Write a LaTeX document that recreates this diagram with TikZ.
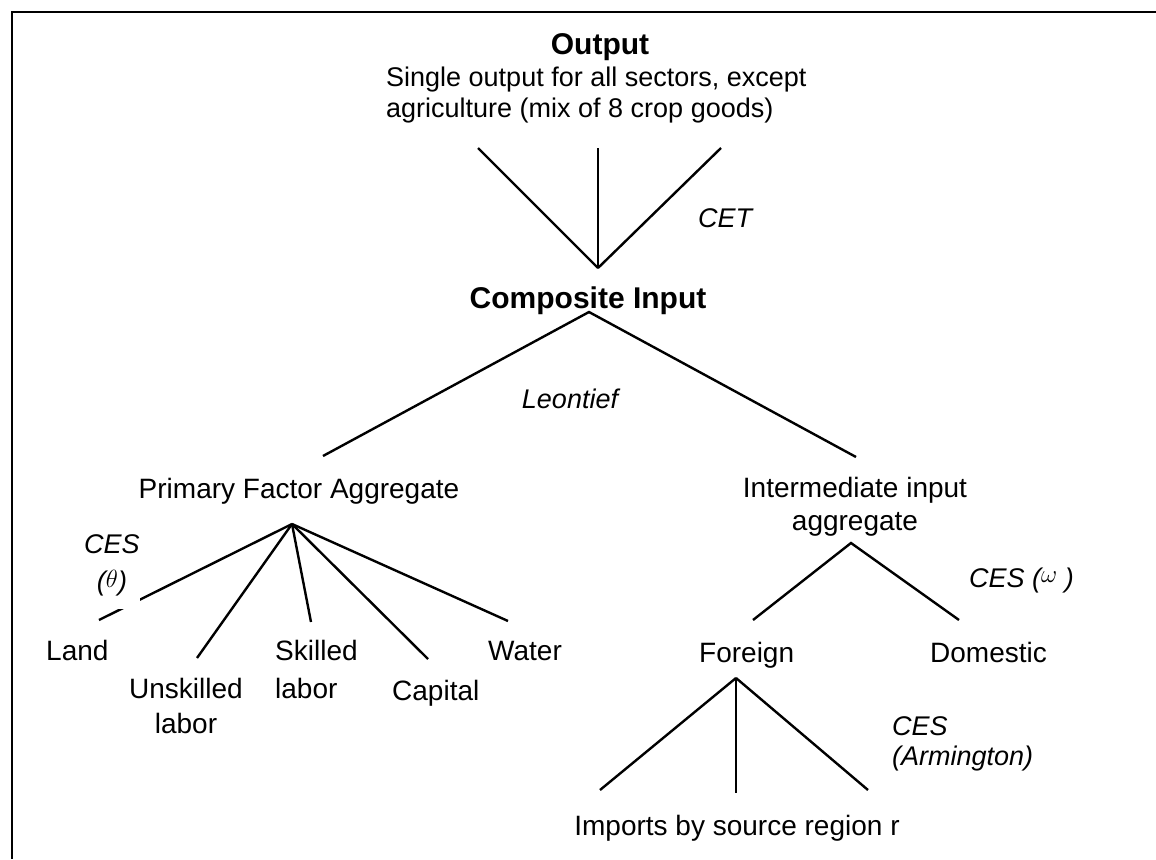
\documentclass[tikz,border=0pt]{standalone}
\usepackage{fontspec}
\setmainfont{Liberation Sans}
\begin{document}
\begin{tikzpicture}[x=1pt,y=-1pt,line width=2.4pt,
	txt/.style={inner sep=0pt,font=\fontsize{28}{34}\selectfont},
	lbl/.style={inner sep=0pt,font=\fontsize{27}{31}\selectfont\itshape},
	ttl/.style={inner sep=0pt,font=\fontsize{30}{34}\selectfont\bfseries}]
	
	\useasboundingbox (0,0) rectangle (1156,859);
	\draw (1156,12) -- (12,12) -- (12,859);
	
	% output
	\node[ttl,anchor=base] (out) at (600,55) {Output};
	\node[txt,anchor=base west,align=left,font=\fontsize{27}{31}\selectfont] (outtxt) at (385,117)
		{Single output for all sectors, except\\agriculture (mix of 8 crop goods)};
	\coordinate (ci-up) at (598,268);
	\foreach \x [count=\i] in {478,598,721}
	{
		\coordinate (o\i) at (\x,148);
		\draw (ci-up) -- (o\i);
	}
	\node[lbl,anchor=base west] (cet) at (697,227) {CET};
	
	% composite input
	\node[ttl,anchor=base] (ci) at (588,308) {Composite Input};
	\coordinate (ci-dn) at (589,312);
	\coordinate (pfa-up) at (323,456);
	\coordinate (iia-up) at (856,457);
	\draw (pfa-up) -- (ci-dn) -- (iia-up);
	\node[lbl,anchor=base] (leon) at (570,408) {Leontief};
	
	% primary factors
	\node[txt,anchor=base] (pfa) at (299,498) {Primary Factor Aggregate};
	\coordinate (pfa-dn) at (292,524);
	\node[txt,anchor=base west] (land) at (45,660) {Land};
	\node[txt,anchor=base,align=center] (unsk) at (186,733) {Unskilled\\[1pt]labor};
	\node[txt,anchor=base west,align=left] (skil) at (274,698) {Skilled\\[4pt]labor};
	\node[txt,anchor=base west] (capi) at (391,700) {Capital};
	\node[txt,anchor=base west] (watr) at (487,660) {Water};
	\foreach \n/\p in {land/{99,620},unsk/{197,658},skil/{311,622},capi/{428,659},watr/{508,621}}
	{
		\coordinate (\n-in) at (\p);
		\draw (pfa-dn) -- (\n-in);
	}
	\node[lbl,anchor=base,align=center,fill=white] (cesth) at (112,590)
		{CES\\[6pt](\raisebox{3pt}{$\theta$})\rule[-19pt]{0pt}{19pt}};
	
	% intermediate inputs
	\node[txt,anchor=base,align=center] (iia) at (855,530) {Intermediate input\\[-1pt]aggregate};
	\coordinate (iia-dn) at (851,543);
	\node[txt,anchor=base west] (forgn) at (698,662) {Foreign};
	\node[txt,anchor=base west] (dome) at (929,662) {Domestic};
	\coordinate (forgn-in) at (753,620);
	\coordinate (dome-in) at (959,620);
	\draw (forgn-in) -- (iia-dn) -- (dome-in);
	\node[lbl,anchor=base west] (cesom) at (968,587) {CES (\raisebox{5pt}{$\omega$} )};
	
	% imports
	\coordinate (fo-dn) at (736,678);
	\foreach \x/\y [count=\i] in {600/790,736/793,868/790}
	{
		\coordinate (r\i) at (\x,\y);
		\draw (fo-dn) -- (r\i);
	}
	\node[txt,anchor=base] (imp) at (737,835) {Imports by source region r};
	\node[lbl,anchor=base west,align=left] (cesarm) at (891,765) {CES\\[-1pt](Armington)};
\end{tikzpicture}
\end{document}
